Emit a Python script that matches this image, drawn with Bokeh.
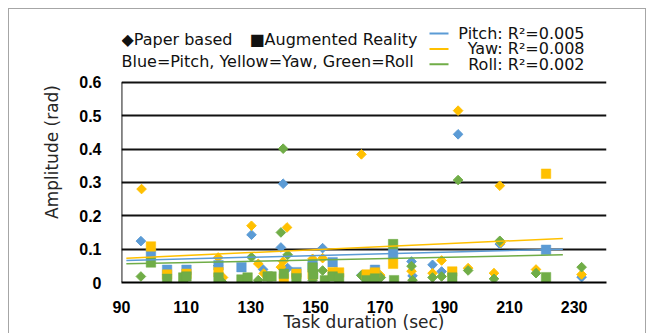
import math
from bokeh.plotting import figure
from bokeh.models import Range1d, FixedTicker, Label
from bokeh.embed import file_html
from bokeh.resources import INLINE

BLUE = "#5B9BD5"
YELLOW = "#FFC000"
GREEN = "#70AD47"

# ---- data ----
paper_pitch_x = [96.0, 130.2, 133.8, 139.3, 140.0, 141.4, 152.2, 164.2, 179.7, 180.0, 186.2, 189.0, 194.1, 207.0, 232.3]
paper_pitch_y = [0.124, 0.143, 0.039, 0.105, 0.296, 0.043, 0.103, 0.022, 0.063, 0.020, 0.053, 0.033, 0.444, 0.115, 0.016]

paper_yaw_x = [96.2, 119.9, 121.4, 130.2, 132.3, 134.0, 139.3, 140.0, 141.2, 149.1, 152.2, 164.2, 170.0, 179.7,
               186.2, 189.0, 194.1, 197.2, 205.2, 207.0, 207.3, 218.2, 232.3]
paper_yaw_y = [0.28, 0.075, 0.015, 0.17, 0.056, 0.027, 0.046, 0.063, 0.165, 0.071, 0.073, 0.384, 0.022, 0.034,
               0.028, 0.066, 0.515, 0.043, 0.028, 0.29, 0.12, 0.039, 0.024]

paper_roll_x = [96.0, 119.9, 121.0, 130.2, 132.3, 139.3, 140.0, 141.4, 149.1, 152.2, 164.2, 170.2, 179.7, 180.0,
                186.2, 189.0, 194.1, 197.2, 205.2, 207.0, 218.2, 232.3]
paper_roll_y = [0.018, 0.05, 0.003, 0.076, 0.007, 0.15, 0.401, 0.083, 0.007, 0.036, 0.021, 0.015, 0.049, 0.007,
                0.015, 0.018, 0.307, 0.036, 0.011, 0.125, 0.028, 0.046]

ar_pitch_x = [99.1, 104.1, 110.1, 120.0, 127.1, 144.1, 149.1, 155.3, 168.4, 174.0, 221.3]
ar_pitch_y = [0.087, 0.038, 0.038, 0.052, 0.046, 0.031, 0.053, 0.061, 0.038, 0.086, 0.098]

ar_yaw_x = [99.1, 104.1, 110.1, 120.0, 140.2, 144.1, 149.1, 155.3, 157.3, 165.8, 168.4, 174.0, 192.3, 221.3]
ar_yaw_y = [0.108, 0.024, 0.026, 0.031, 0.012, 0.026, 0.025, 0.031, 0.030, 0.024, 0.030, 0.056, 0.033, 0.326]

ar_roll_x = [99.1, 104.1, 109.1, 110.1, 120.0, 127.1, 129.0, 135.2, 136.4, 140.2, 144.1, 149.1, 149.3, 152.9,
             155.3, 157.3, 165.8, 168.4, 174.0, 174.3, 192.3, 221.3]
ar_roll_y = [0.060, 0.011, 0.015, 0.018, 0.015, 0.009, 0.015, 0.018, 0.018, 0.026, 0.013, 0.045, 0.025, 0.007,
             0.018, 0.013, 0.007, 0.012, 0.115, 0.007, 0.015, 0.016]

trend_x = [91.5, 226.5]
pitch_trend = [0.066, 0.100]
yaw_trend = [0.073, 0.132]
roll_trend = [0.056, 0.083]

x_ticks = [90, 110, 130, 150, 170, 190, 210, 230]
y_ticks = [0, 0.1, 0.2, 0.3, 0.4, 0.5, 0.6]

legend_r2 = ["Pitch: R\u00b2=0.005", "Yaw: R\u00b2=0.008", "Roll: R\u00b2=0.002"]

# page-pixel geometry of the plot frame in the reference
FX0, FX1 = 120.0, 605.0      # x = 90 .. 240
FY0, FY1 = 282.0, 81.0       # y = 0 .. 0.6
X0, X1 = 90.0, 240.0
Y_TOP_PX = 20.0              # frame extended upwards to hold the legend


def dx(px):
    return X0 + (px - FX0) * (X1 - X0) / (FX1 - FX0)


def dy(py):
    return (FY0 - py) * 0.6 / (FY0 - FY1)


# ---- figure (placed at page 8,8 like the reference chart box) ----
W, H = 638, 325
p = figure(width=W, height=H, output_backend="svg", toolbar_location=None,
           x_range=Range1d(X0, X1), y_range=Range1d(0, dy(Y_TOP_PX)),
           min_border_left=int(FX0 - 8), min_border_right=int(W - (FX1 - 8)),
           min_border_top=int(Y_TOP_PX - 8), min_border_bottom=int(H - (FY0 - 8)))
p.outline_line_color = None
p.background_fill_color = "white"
p.border_fill_color = "white"
p.styles = {"margin-left": "8px", "margin-top": "8px",
            "border-top": "1px solid #a6a6a6", "border-left": "1px solid #a6a6a6",
            "border-right": "1px solid #a6a6a6", "box-sizing": "border-box"}

TXT = "DejaVu Sans"
AX = "Liberation Sans"

p.xaxis.ticker = FixedTicker(ticks=x_ticks)
p.yaxis.ticker = FixedTicker(ticks=y_ticks)
p.yaxis.major_label_overrides = {0: "0"}
for ax in (p.xaxis, p.yaxis):
    ax.major_tick_line_color = None
    ax.minor_tick_line_color = None
    ax.major_tick_out = 0
    ax.major_tick_in = 0
    ax.major_label_text_font = AX
    ax.major_label_text_font_style = "bold"
    ax.major_label_text_font_size = "16px"
    ax.major_label_text_color = "black"
    ax.axis_label_text_font = TXT
    ax.axis_label_text_font_style = "normal"
    ax.axis_label_text_font_size = "17px"
    ax.axis_label_text_color = "#262626"
p.xaxis.axis_line_color = "black"
p.xaxis.axis_line_width = 1.8
p.yaxis.axis_line_color = None
p.yaxis.major_label_standoff = 20
p.xaxis.major_label_standoff = 18
p.xaxis.axis_label = "Task duration (sec)"
p.yaxis.axis_label = "Amplitude (rad)"
p.xaxis.axis_label_standoff = -4
p.yaxis.axis_label_standoff = 14

p.xgrid.grid_line_color = None
p.ygrid.ticker = FixedTicker(ticks=y_ticks)
p.ygrid.grid_line_color = "#111111"
p.ygrid.grid_line_width = 1.8

# vertical axis line only over the tick span (0 .. 0.6)
p.line([x_ticks[0], x_ticks[0]], [y_ticks[0], y_ticks[-1]], line_color="black", line_width=1.8)

# diamonds (paper based)
for xs, ys, c in ((paper_pitch_x, paper_pitch_y, BLUE),
                  (paper_yaw_x, paper_yaw_y, YELLOW),
                  (paper_roll_x, paper_roll_y, GREEN)):
    p.scatter(xs, ys, marker="square", size=6.8, angle=math.pi / 4,
              fill_color=c, line_color=c, line_width=1)

# squares (augmented reality)
for xs, ys, c in ((ar_pitch_x, ar_pitch_y, BLUE),
                  (ar_yaw_x, ar_yaw_y, YELLOW),
                  (ar_roll_x, ar_roll_y, GREEN)):
    p.scatter(xs, ys, marker="square", size=9.5, fill_color=c, line_color=c, line_width=0.5)

# trendlines
for ys, c in ((pitch_trend, BLUE), (yaw_trend, YELLOW), (roll_trend, GREEN)):
    p.line(trend_x, ys, line_color=c, line_width=1.5)


def lab(text, px, py, align="left", size="16px", color="#111111", font=TXT):
    p.add_layout(Label(x=dx(px), y=dy(py), text=text, text_align=align, text_baseline="middle",
                       text_font=font, text_font_size=size, text_color=color))


lab("\u25c6Paper based", 120, 38)
lab("\u25a0Augmented Reality", 248, 38)
lab("Blue=Pitch, Yellow=Yaw, Green=Roll", 120, 60)

for i, (t, c) in enumerate(zip(legend_r2, (BLUE, YELLOW, GREEN))):
    py = 32 + i * 15.5
    lab(t, 583, py, align="right")
    p.line([dx(428), dx(447)], [dy(py), dy(py)], line_color=c, line_width=2)

open("out.html", "w").write(file_html(p, INLINE))
